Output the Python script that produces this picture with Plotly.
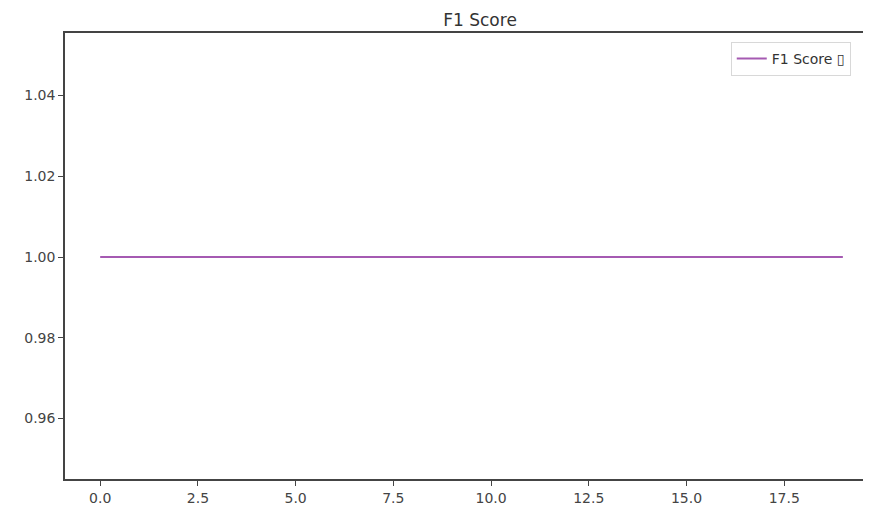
import plotly.graph_objects as go

epochs = list(range(20))
f1_scores = [1.0] * 20
series_name = "F1 Score ▯"
chart_title = "F1 Score"
y_tick_vals = [0.96, 0.98, 1.00, 1.02, 1.04]
y_tick_text = ["0.96", "0.98", "1.00", "1.02", "1.04"]
x_tick_vals = [0, 2.5, 5, 7.5, 10, 12.5, 15, 17.5]
x_tick_text = ["0.0", "2.5", "5.0", "7.5", "10.0", "12.5", "15.0", "17.5"]

fig = go.Figure()
fig.add_trace(go.Scatter(x=epochs, y=f1_scores, mode="lines", name=series_name,
                         line=dict(color="#a55ab2", width=2)))

font_family = "DejaVu Sans, sans-serif"
# page body has an 8px default margin; size the figure to fill the rest of the window
fig.update_layout(
    width=863, height=498,
    margin=dict(l=57, r=0, t=25, b=25),
    paper_bgcolor="white", plot_bgcolor="white",
    title=dict(text=chart_title, x=0.547, xanchor="center", y=0.976, yanchor="middle",
               font=dict(family=font_family, size=17, color="#333333")),
    showlegend=True,
    legend=dict(x=0.826, y=0.98, xanchor="left", yanchor="top",
                bordercolor="#d8d8d8", borderwidth=1, bgcolor="white",
                font=dict(family=font_family, size=14, color="#333333")),
    font=dict(family=font_family, size=14, color="#444444"),
)
fig.update_xaxes(range=[-0.9, 19.72], tickvals=x_tick_vals, ticktext=x_tick_text,
                 showgrid=False, zeroline=False, showline=True, linecolor="#444444",
                 linewidth=1.5, mirror=True, ticks="outside", ticklen=5, tickcolor="#444444",
                 tickfont=dict(size=14, color="#444444"))
fig.update_yaxes(range=[0.945, 1.0555], tickvals=y_tick_vals, ticktext=y_tick_text,
                 showgrid=False, zeroline=False, showline=True, linecolor="#444444",
                 linewidth=1.5, mirror=False, ticks="outside", ticklen=5, tickcolor="#444444",
                 tickfont=dict(size=14, color="#444444"))

fig.write_html("out.html")
